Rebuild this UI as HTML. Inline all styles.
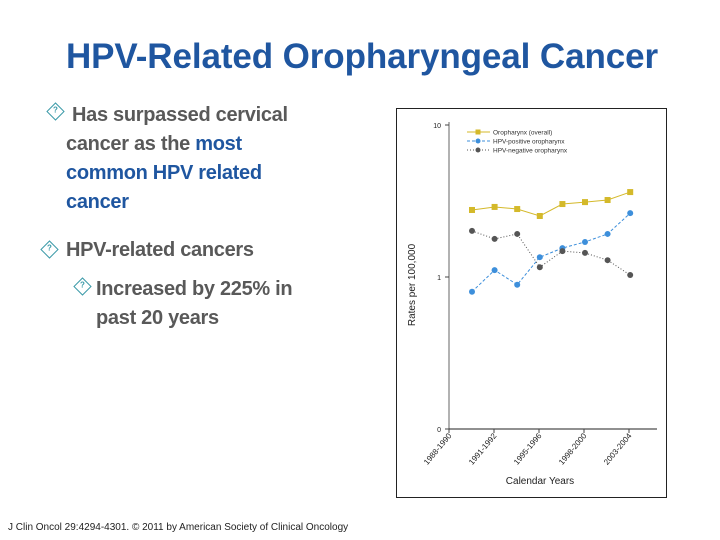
<!DOCTYPE html>
<html><head><meta charset="utf-8">
<style>
body{margin:0;width:720px;height:540px;background:#fff;position:relative;overflow:hidden;font-family:"Liberation Sans",sans-serif}
.t{position:absolute;white-space:nowrap;color:#595959;font-size:20px;font-weight:bold;letter-spacing:-0.3px}
.b{color:#1F56A0}
.d{position:absolute;width:11px;height:11px;border:1.5px solid #3a9aa8;transform:rotate(45deg)}
.d:after{content:"?";position:absolute;transform:rotate(-45deg);font-size:8px;color:#3a9aa8;left:2px;top:0px;font-weight:bold}
</style></head><body>
<div class="t" style="left:66px;top:37px;font-size:35px;color:#1F56A0;letter-spacing:-0.1px">HPV-Related Oropharyngeal Cancer</div>
<div class="d" style="left:49px;top:105px"></div>
<div class="t" style="left:72px;top:101px;line-height:29px">Has surpassed cervical</div>
<div class="t" style="left:66px;top:130px;line-height:29px">cancer as the <span class="b">most</span><br><span class="b">common HPV related</span><br><span class="b">cancer</span></div>
<div class="d" style="left:43px;top:243px"></div>
<div class="t" style="left:66px;top:239px">HPV-related cancers</div>
<div class="d" style="left:76px;top:280px"></div>
<div class="t" style="left:96px;top:275px;line-height:29px">Increased by 225% in<br>past 20 years</div>
<div class="t" style="left:8px;top:522px;font-size:10px;font-weight:normal;color:#222;letter-spacing:0">J Clin Oncol 29:4294-4301. © 2011 by American Society of Clinical Oncology</div>
<svg id="chart" width="720" height="540" style="position:absolute;left:0;top:0">
<rect x="396.5" y="108.5" width="270" height="389" fill="#fff" stroke="#222" stroke-width="1"/>
</svg>
<script>
const categories=["1984-1986","1987-1989","1990-1992","1993-1995","1996-1998","1999-2001","2002-2004","2005-2007"];
const overall=[2.76,2.89,2.80,2.52,3.02,3.11,3.21,3.62];
const hpvPositive=[0.80,1.11,0.89,1.35,1.55,1.70,1.92,2.63];
const hpvNegative=[2.01,1.78,1.92,1.16,1.48,1.44,1.29,1.03];
const yTicks=[{v:10,l:"10"},{v:1,l:"1"},{v:0.1,l:"0"}];
const xLabels=["1988-1990","1991-1992","1995-1996","1998-2000","2003-2004"];
const NS="http://www.w3.org/2000/svg",svg=document.getElementById("chart");
const y=v=>277-152*Math.log10(v);
const x=i=>472+i*22.6;
function mk(t,a,p){const e=document.createElementNS(NS,t);for(const k in a)e.setAttribute(k,a[k]);(p||svg).appendChild(e);return e;}
const ya=mk("line",{x1:449,y1:122,x2:449,y2:429,stroke:"#999","stroke-width":1.5});


const xa=mk("line",{x1:449,y1:429,x2:657,y2:429,stroke:"#222","stroke-width":1});


yTicks.forEach(t=>{const g=mk("g",{});


mk("line",{x1:445,x2:449,y1:y(t.v),y2:y(t.v),stroke:"#444"},g);
const tx=mk("text",{x:441,y:y(t.v)+3,"font-size":7,"text-anchor":"end",fill:"#222"},g);tx.textContent=t.l;});
xLabels.forEach((l,i)=>{const xx=449+i*45;const g=mk("g",{});


mk("line",{x1:xx,x2:xx,y1:429,y2:433,stroke:"#444"},g);
const tx=mk("text",{x:xx+3,y:436,"font-size":8,"text-anchor":"end",fill:"#222",transform:`rotate(-50 ${xx+3} 436)`},g);tx.textContent=l;});
const yt=mk("text",{x:415,y:285,"font-size":10,"text-anchor":"middle",fill:"#222",transform:"rotate(-90 415 285)"});yt.textContent="Rates per 100,000";


const xt=mk("text",{x:540,y:484,"font-size":10,"text-anchor":"middle",fill:"#222"});xt.textContent="Calendar Years";


const series=[{d:overall,c:"#D4B92A",dash:"",sq:true,n:"Oropharynx (overall)",nm:"series-overall"},
{d:hpvPositive,c:"#3D8FDB",dash:"3,2",sq:false,n:"HPV-positive oropharynx",nm:"series-hpv-positive"},
{d:hpvNegative,c:"#555",dash:"1,2",sq:false,n:"HPV-negative oropharynx",nm:"series-hpv-negative"}];
series.forEach((s,k)=>{const g=mk("g",{});


mk("polyline",{points:s.d.map((v,i)=>x(i)+","+y(v)).join(" "),fill:"none",stroke:s.c,"stroke-width":1,"stroke-dasharray":s.dash},g);
s.d.forEach((v,i)=>{const p=s.sq?mk("rect",{x:x(i)-3,y:y(v)-3,width:6,height:6,fill:s.c},g):mk("circle",{cx:x(i),cy:y(v),r:3,fill:s.c},g);

});
const ly=132+k*9;const lg=mk("g",{});


mk("line",{x1:467,x2:490,y1:ly,y2:ly,stroke:s.c,"stroke-dasharray":s.dash},lg);
if(s.sq)mk("rect",{x:475.5,y:ly-2.5,width:5,height:5,fill:s.c},lg);else mk("circle",{cx:478,cy:ly,r:2.5,fill:s.c},lg);
const t=mk("text",{x:493,y:ly+2.5,"font-size":6.5,fill:"#333"},lg);t.textContent=s.n;});
</script>
</body></html>
